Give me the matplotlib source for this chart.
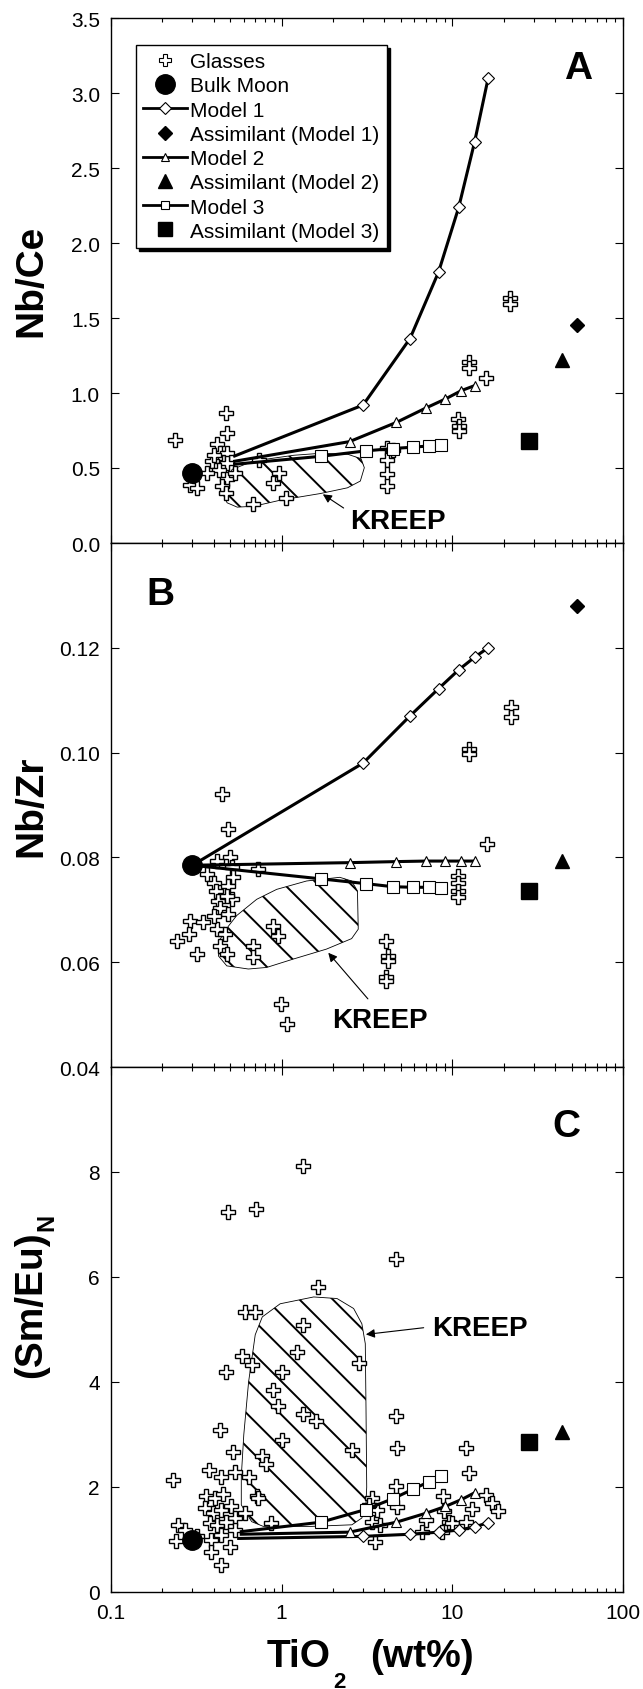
import matplotlib
matplotlib.use('Agg')
import matplotlib.pyplot as plt
from matplotlib.patches import Polygon
from matplotlib.lines import Line2D
from matplotlib.ticker import FixedLocator, LogLocator, NullFormatter, FuncFormatter

plt.rcParams['font.family'] = ['Liberation Sans', 'DejaVu Sans']
plt.rcParams['hatch.linewidth'] = 1.4

# ---- data (TiO2 wt% on x) ----
bulk_x = 0.3
bulk_ce = 0.47
bulk_zr = 0.0785
bulk_sm = 1.0

m1_x = [3.0, 5.65, 8.3, 10.9, 13.5, 16.2]
m2_x = [2.5, 4.7, 7.0, 9.1, 11.3, 13.5]
m3_x = [1.7, 3.1, 4.5, 5.9, 7.3, 8.6]

m1_ce = [0.92, 1.363, 1.806, 2.238, 2.673, 3.097]
m2_ce = [0.676, 0.804, 0.90, 0.96, 1.016, 1.049]
m3_ce = [0.578, 0.614, 0.63, 0.639, 0.647, 0.652]
start_ce = [(0.53, 0.58), (0.53, 0.545), (0.53, 0.525)]

m1_zr = [0.098, 0.107, 0.1122, 0.1158, 0.1182, 0.120]
m2_zr = [0.0790, 0.0792, 0.0793, 0.0793, 0.0793, 0.0793]
m3_zr = [0.0759, 0.0750, 0.0744, 0.0743, 0.0743, 0.0741]
start_zr = [(0.3, 0.0785), (0.3, 0.0785), (0.3, 0.0785)]

m1_sm = [1.06, 1.10, 1.14, 1.18, 1.24, 1.32]
m2_sm = [1.14, 1.33, 1.50, 1.63, 1.76, 1.89]
m3_sm = [1.33, 1.57, 1.78, 1.96, 2.10, 2.21]
start_sm = [(0.56, 1.02), (0.58, 1.10), (0.58, 1.15)]

assim_x = [54, 44, 28]
assim_ce = [1.453, 1.22, 0.678]
assim_zr = [0.1279, 0.0793, 0.0736]
assim_sm = [None, 3.05, 2.86]

glass_ce_x = [0.238, 0.475, 0.479, 0.418, 0.437, 0.479, 0.391, 0.479, 0.43, 0.479, 0.447, 0.365,
              0.291, 0.319, 0.40, 0.536, 0.469, 0.736, 0.964, 0.893, 1.06, 0.681,
              4.16, 4.16, 4.16, 4.16, 4.48, 10.8, 10.9, 10.9, 12.6, 12.6, 15.8, 21.7, 21.7]
glass_ce_y = [0.685, 0.864, 0.732, 0.658, 0.603, 0.603, 0.547, 0.536, 0.49, 0.424, 0.379, 0.469,
              0.384, 0.364, 0.59, 0.469, 0.335, 0.551, 0.464, 0.397, 0.301, 0.263,
              0.636, 0.554, 0.458, 0.379, 0.620, 0.826, 0.781, 0.748, 1.21, 1.17, 1.098, 1.632, 1.593]

glass_zr_x = [0.446, 0.488, 12.6, 12.6, 16.0, 22.0, 22.0, 10.8, 10.8, 10.8, 10.8,
              4.11, 4.2, 4.2, 4.11, 4.11, 0.99, 1.08, 0.243, 0.291, 0.285, 0.348, 0.318,
              0.364, 0.399, 0.41, 0.426, 0.436, 0.417, 0.436, 0.466, 0.477, 0.499, 0.51,
              0.52, 0.488, 0.51, 0.488, 0.417, 0.73, 0.894, 0.956, 0.683, 0.683, 0.477, 0.399]
glass_zr_y = [0.0921, 0.0854, 0.1007, 0.0997, 0.0825, 0.1087, 0.1068, 0.0765, 0.0752, 0.0736, 0.0724,
              0.0641, 0.0612, 0.0603, 0.0571, 0.0564, 0.0520, 0.0482, 0.0641, 0.0679, 0.0653, 0.0676, 0.0615,
              0.0768, 0.0752, 0.0736, 0.0717, 0.0704, 0.0663, 0.0631, 0.0653, 0.0615, 0.0800, 0.0781,
              0.0762, 0.0746, 0.0720, 0.0692, 0.0794, 0.0778, 0.0669, 0.0650, 0.0631, 0.0609, 0.0727, 0.0689]

glass_sm_x = [1.34, 0.483, 0.706, 4.65, 1.63, 0.61, 0.70, 1.34, 0.584, 0.667, 0.471, 1.0, 1.23, 2.82,
              0.895, 0.956, 1.33, 1.58, 1.01, 0.435, 0.52, 0.766, 0.81, 2.6, 4.65, 4.77, 12.1, 12.6,
              0.232, 0.373, 0.44, 0.53, 0.64, 0.72, 4.65, 4.77, 8.8, 13.0, 15.7, 17.1, 18.6,
              0.247, 0.241, 0.27, 0.362, 0.405, 0.454, 0.354, 0.397, 0.443, 0.508, 0.532, 0.38, 0.42,
              0.475, 0.32, 0.388, 0.444, 0.532, 0.497, 0.388, 0.444, 0.61, 0.73, 0.87,
              3.38, 3.6, 3.38, 3.79, 3.54, 3.24, 6.97, 6.65, 8.9, 9.6, 8.75, 10.0, 12.0]
glass_sm_y = [8.11, 7.23, 7.29, 6.34, 5.81, 5.33, 5.33, 5.08, 4.49, 4.33, 4.19, 4.20, 4.57, 4.37,
              3.84, 3.55, 3.40, 3.25, 2.90, 3.09, 2.67, 2.59, 2.43, 2.70, 3.36, 2.74, 2.74, 2.26,
              2.14, 2.32, 2.20, 2.28, 2.20, 1.82, 2.01, 1.62, 1.82, 1.58, 1.85, 1.70, 1.55,
              1.28, 0.97, 1.18, 1.82, 1.79, 1.86, 1.60, 1.50, 1.57, 1.63, 1.41, 1.31, 1.28,
              1.34, 1.06, 0.99, 1.09, 1.18, 0.86, 0.77, 0.51, 1.50, 1.79, 1.31,
              1.79, 1.57, 1.34, 1.28, 0.96, 1.66, 1.38, 1.15, 1.54, 1.34, 1.15, 1.31, 1.34]

kreep_ce = [(0.513, 0.491), (0.687, 0.547), (1.18, 0.585), (1.69, 0.598), (2.43, 0.592), (2.92, 0.562),
            (3.05, 0.502), (2.89, 0.413), (2.43, 0.368), (1.69, 0.330), (0.987, 0.286), (0.687, 0.245),
            (0.549, 0.239), (0.479, 0.268), (0.454, 0.324), (0.468, 0.402)]
kreep_zr = [(0.545, 0.0689), (0.714, 0.0720), (0.935, 0.0739), (1.40, 0.0755), (2.19, 0.0762),
            (2.57, 0.0755), (2.78, 0.0736), (2.81, 0.0663), (2.57, 0.0645), (1.83, 0.0625),
            (1.17, 0.0606), (0.817, 0.0590), (0.638, 0.0587), (0.477, 0.0593), (0.426, 0.0612),
            (0.436, 0.0644), (0.488, 0.0669)]
kreep_sm = [(0.58, 1.66), (0.58, 2.2), (0.60, 3.0), (0.64, 4.0), (0.70, 4.9), (0.77, 5.24), (0.98, 5.49),
            (1.54, 5.62), (2.11, 5.59), (2.64, 5.40), (2.95, 5.11), (3.09, 4.73), (3.12, 3.5), (3.15, 2.0),
            (3.12, 1.7), (2.95, 1.41), (2.58, 1.28), (1.5, 1.25), (0.78, 1.25), (0.667, 1.34)]

# label text pos, arrow tail, arrow head (data coords)
kreep_lab_ce = [(4.79, 0.145), (2.38, 0.223), (1.69, 0.335)]
kreep_lab_zr = [(3.79, 0.049), (3.28, 0.0526), (1.83, 0.0622)]
kreep_lab_sm = [(14.5, 5.02), (7.05, 5.04), (3.0, 4.9)]

W, H = 643, 1690
fig = plt.figure(figsize=(W / 100, H / 100), dpi=100)

def box(top, bottom, left=111, right=623):
    return [left / W, 1 - bottom / H, (right - left) / W, (bottom - top) / H]

ax_a = fig.add_axes(box(19, 544))
ax_b = fig.add_axes(box(544, 1068))
ax_c = fig.add_axes(box(1068, 1593))

panels = [
    (ax_a, glass_ce_x, glass_ce_y, [m1_ce, m2_ce, m3_ce], start_ce, assim_ce, bulk_ce, kreep_ce, kreep_lab_ce),
    (ax_b, glass_zr_x, glass_zr_y, [m1_zr, m2_zr, m3_zr], start_zr, assim_zr, bulk_zr, kreep_zr, kreep_lab_zr),
    (ax_c, glass_sm_x, glass_sm_y, [m1_sm, m2_sm, m3_sm], start_sm, assim_sm, bulk_sm, kreep_sm, kreep_lab_sm),
]

model_x = [m1_x, m2_x, m3_x]
open_mk = [('D', 6), ('^', 7), ('s', 8.5)]
fill_mk = [('D', 7), ('^', 10), ('s', 11)]

for ax, gx, gy, models, starts, assim, bulk, kreep, klab in panels:
    ax.add_patch(Polygon(kreep, closed=True, facecolor='white', edgecolor='black',
                         lw=0.6, hatch='\\', zorder=1))
    ax.plot(gx, gy, ls='none', marker='P', ms=10, mfc='white', mec='black', mew=1.0, zorder=2)
    for i in range(3):
        xs = [starts[i][0]] + model_x[i]
        ys = [starts[i][1]] + models[i]
        ax.plot(xs, ys, color='black', lw=2.2, marker=open_mk[i][0], ms=open_mk[i][1],
                mfc='white', mec='black', mew=0.8, markevery=slice(1, None), zorder=3)
        if assim[i] is not None:
            ax.plot(assim_x[i], assim[i], ls='none', marker=fill_mk[i][0], ms=fill_mk[i][1],
                    color='black', zorder=3)
    ax.plot(bulk_x, bulk, 'o', ms=14, color='black', zorder=4)

    (tx, ty), tail, head = klab
    ax.text(tx, ty, 'KREEP', fontsize=20, fontweight='bold', ha='center', va='center')
    ax.annotate('', xy=head, xytext=tail,
                arrowprops=dict(arrowstyle='-|>', lw=0.8, color='black', mutation_scale=13))

    ax.set_xscale('log')
    ax.set_xlim(0.1, 100)
    ax.xaxis.set_major_locator(FixedLocator([0.1, 1, 10, 100]))
    ax.xaxis.set_minor_locator(LogLocator(base=10, subs=range(2, 10)))
    ax.xaxis.set_minor_formatter(NullFormatter())
    ax.tick_params(which='both', direction='in', top=True, right=True, width=0.8, labelsize=15, pad=8)
    ax.tick_params(which='major', length=6)
    ax.tick_params(which='minor', length=3)
    for s in ax.spines.values():
        s.set_linewidth(1.0)

ax_a.set_ylim(0, 3.5)
ax_a.set_yticks([0, 0.5, 1.0, 1.5, 2.0, 2.5, 3.0, 3.5])
ax_a.yaxis.set_major_formatter(FuncFormatter(lambda v, p: '%.1f' % v))
ax_b.set_ylim(0.04, 0.14)
ax_b.set_yticks([0.04, 0.06, 0.08, 0.10, 0.12])
ax_b.yaxis.set_major_formatter(FuncFormatter(lambda v, p: '%.2f' % v))
ax_c.set_ylim(0, 10)
ax_c.set_yticks([0, 2, 4, 6, 8])

ax_a.tick_params(axis='x', labelbottom=False)
ax_b.tick_params(axis='x', labelbottom=False)
ax_c.xaxis.set_major_formatter(FuncFormatter(lambda v, p: '%g' % v))

def ft(x, y, s, **kw):
    fig.text(x / W, 1 - y / H, s, fontweight='bold', **kw)

# axis titles placed in pixel positions
ft(31, 281, 'Nb/Ce', fontsize=28, rotation=90, ha='center', va='center')
ft(31, 806, 'Nb/Zr', fontsize=28, rotation=90, ha='center', va='center')
ft(31, 1305, '(Sm/Eu)', fontsize=28, rotation=90, ha='center', va='center')
ft(47, 1222, 'N', fontsize=17, rotation=90, ha='center', va='center')
ft(267, 1667, 'TiO', fontsize=28, ha='left', va='baseline')
ft(333, 1688, '2', fontsize=16, ha='left', va='baseline')
ft(370, 1667, '(wt%)', fontsize=28, ha='left', va='baseline')

ax_a.text(0.912, 0.905, 'A', transform=ax_a.transAxes, fontsize=28, fontweight='bold', ha='center', va='center')
ax_b.text(0.096, 0.903, 'B', transform=ax_b.transAxes, fontsize=28, fontweight='bold', ha='center', va='center')
ax_c.text(0.889, 0.888, 'C', transform=ax_c.transAxes, fontsize=28, fontweight='bold', ha='center', va='center')

handles = [
    Line2D([], [], ls='none', marker='P', ms=8, mfc='white', mec='black', mew=0.8),
    Line2D([], [], ls='none', marker='o', ms=14, color='black'),
    Line2D([], [], color='black', lw=2, marker='D', ms=6, mfc='white', mec='black', mew=0.8),
    Line2D([], [], ls='none', marker='D', ms=7, color='black'),
    Line2D([], [], color='black', lw=2, marker='^', ms=6, mfc='white', mec='black', mew=0.8),
    Line2D([], [], ls='none', marker='^', ms=10, color='black'),
    Line2D([], [], color='black', lw=2, marker='s', ms=6, mfc='white', mec='black', mew=0.8),
    Line2D([], [], ls='none', marker='s', ms=10, color='black'),
]
labels = ['Glasses', 'Bulk Moon', 'Model 1', 'Assimilant (Model 1)', 'Model 2',
          'Assimilant (Model 2)', 'Model 3', 'Assimilant (Model 3)']
leg = ax_a.legend(handles, labels, loc='upper left', bbox_to_anchor=(0.049, 0.9486), borderaxespad=0,
                  fontsize=15, frameon=True, fancybox=False, framealpha=1, edgecolor='black',
                  shadow={'color': 'black', 'alpha': 1}, labelspacing=0.25, borderpad=0.35,
                  handlelength=2.1, handletextpad=0.15)
leg.get_frame().set_linewidth(1.0)
leg.set_zorder(10)

fig.savefig('out.png', dpi=100, facecolor='white')
